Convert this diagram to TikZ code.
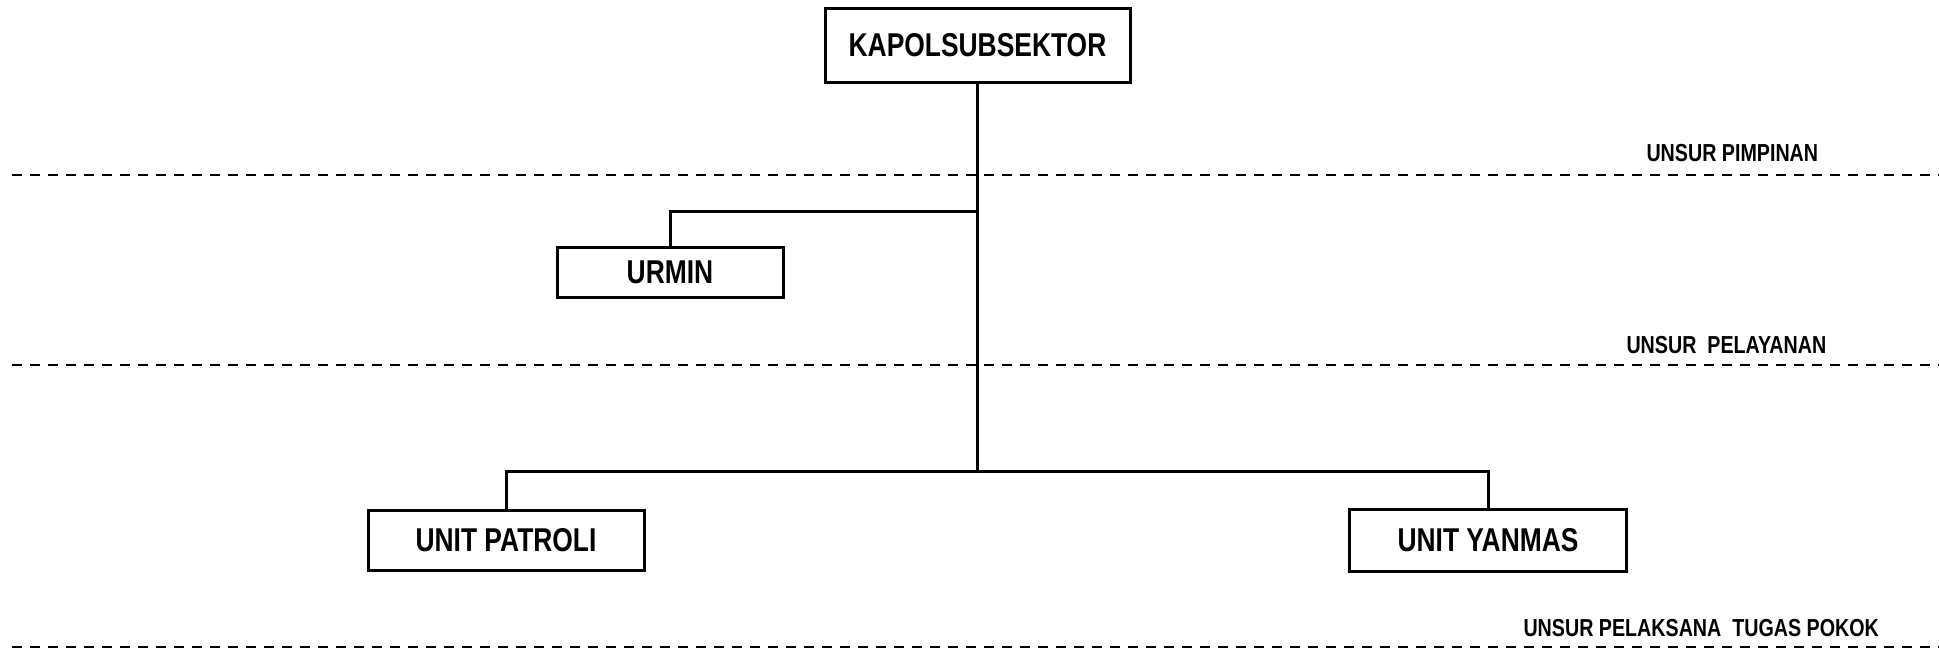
\documentclass[tikz,border=0pt]{standalone}
\usepackage{fontspec}
\setmainfont{Liberation Sans}[FakeStretch=0.8]
\usepackage{tikz}
\usetikzlibrary{positioning, calc}

\begin{document}
\begin{tikzpicture}[x=0.5pt, y=-0.5pt, line width=1.5pt,
        kotak/.style={draw, inner sep=0, font=\bfseries\fontsize{16.5}{19}\selectfont,
            minimum height=30pt, align=center},
        unsur/.style={anchor=west, inner sep=0, font=\bfseries\fontsize{12.3}{14}\selectfont},
        batas/.style={line width=1.3pt, dash pattern=on 5pt off 4pt}]
        \useasboundingbox (0,0) rectangle (1939,650);
        % kotak jabatan
        \node[kotak, minimum width=152.5pt, minimum height=37pt] (kapol) at (977.5,45) {KAPOLSUBSEKTOR};
        \node[kotak, minimum width=113pt, minimum height=25pt] (urmin) at (670,272) {URMIN};
        \node[kotak, minimum width=138pt] (patroli) at (506,540) {UNIT PATROLI};
        \node[kotak, minimum width=138.5pt, minimum height=31pt] (yanmas) at (1488,540) {UNIT YANMAS};
        % garis batas unsur
        \coordinate (g1a) at (12,175); \coordinate (g1b) at (1939,175);
        \coordinate (g2a) at (12,365); \coordinate (g2b) at (1939,365);
        \coordinate (g3a) at (12,647); \coordinate (g3b) at (1939,647);
        \draw[batas] (g1a) -- (g1b);
        \draw[batas] (g2a) -- (g2b);
        \draw[batas] (g3a) -- (g3b);
        \node[unsur] (pimpinan) at (1645,153) {UNSUR PIMPINAN};
        \node[unsur] (pelayanan) at (1625,345) {UNSUR\ \ PELAYANAN};
        \node[unsur] (pelaksana) at (1522,628) {UNSUR PELAKSANA\ \ TUGAS POKOK};
        % garis komando
        \coordinate (ja) at ($(kapol.south)+(0,128)$);
        \coordinate (jb) at ($(kapol.south)+(0,388)$);
        \draw (kapol.south) -- (jb);
        \draw (ja) -| (urmin.north);
        \draw (patroli.north) |- (jb) -| (yanmas.north);
    \end{tikzpicture}
\end{document}
